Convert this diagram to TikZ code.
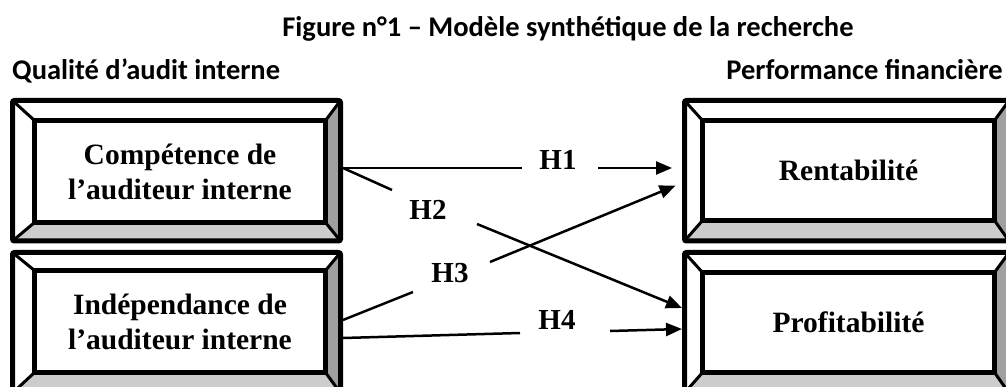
\documentclass[tikz,border=0pt]{standalone}
\usepackage{fontspec}
\setmainfont{Liberation Serif}
\newfontfamily\calfont{Carlito}
\usetikzlibrary{arrows.meta}
\definecolor{bevdark}{HTML}{A0A0A0}
\definecolor{bevlight}{HTML}{CCCCCC}
\tikzset{
  diag/.style={line width=3pt, line cap=round},
  outerbox/.style={draw, line width=5pt, rounded corners=2pt, inner sep=0pt},
  innerbox/.style={draw, line width=5pt, inner sep=0pt, align=center,
    font=\fontsize{29.5}{35}\selectfont\bfseries},
  heading/.style={font=\calfont\fontsize{28.5}{32}\selectfont\bfseries, inner sep=0pt},
  hyp/.style={font=\fontsize{29}{32}\selectfont\bfseries, inner sep=0pt},
  conn/.style={line width=2.5pt},
  arr/.style={conn, -{Triangle[length=16pt,width=13pt]}},
}
% #1 ol, #2 ot, #3 or, #4 ob, #5 il, #6 it, #7 ir, #8 ib
\newcommand\bevelframe[8]{%
  \fill[white] (#1,#2) -- (#3,#2) -- (#7,#6) -- (#5,#6) -- cycle;
  \fill[white] (#1,#2) -- (#5,#6) -- (#5,#8) -- (#1,#4) -- cycle;
  \fill[bevdark] (#3,#2) -- (#3,#4) -- (#7,#8) -- (#7,#6) -- cycle;
  \fill[bevlight] (#1,#4) -- (#5,#8) -- (#7,#8) -- (#3,#4) -- cycle;
  \draw[diag] (#1,#2) -- (#5,#6) (#3,#2) -- (#7,#6) (#1,#4) -- (#5,#8) (#3,#4) -- (#7,#8);
}
\begin{document}
\begin{tikzpicture}[x=1pt,y=-1pt]
\useasboundingbox (0,0) rectangle (1006,387);
\begin{scope}
\clip (0,0) rectangle (1006,387);
% left top
\bevelframe{12.5}{100.5}{340.5}{241}{34.5}{120.5}{325.5}{222.5}
\node[outerbox, minimum width=328pt, minimum height=140.5pt] (c1o) at (176.5,170.75) {};
\node[innerbox, minimum width=291pt, minimum height=102pt] (c1) at (180,171.5) {Compétence de\\l’auditeur interne};
% left bottom
\bevelframe{12.5}{252.5}{340.5}{393}{34.5}{270.5}{325.5}{372.5}
\node[outerbox, minimum width=328pt, minimum height=140.5pt] (c2o) at (176.5,322.75) {};
\node[innerbox, minimum width=291pt, minimum height=102pt] (c2) at (180,321.5) {Indépendance de\\l’auditeur interne};
% right top
\bevelframe{684.5}{100.5}{1009}{241}{702.5}{120.5}{994.5}{220.5}
\node[outerbox, minimum width=324.5pt, minimum height=140.5pt] (r1o) at (846.75,170.75) {};
\node[innerbox, minimum width=292pt, minimum height=100pt] (r1) at (848.5,170.5) {Rentabilité};
% right bottom
\bevelframe{684.5}{252.5}{1009}{393}{702.5}{272.5}{994.5}{372.5}
\node[outerbox, minimum width=324.5pt, minimum height=140.5pt] (r2o) at (846.75,322.75) {};
\node[innerbox, minimum width=292pt, minimum height=100pt] (r2) at (848.5,322.5) {Profitabilité};
\end{scope}
% headings
\node[heading, anchor=base] (title) at (568,37) {Figure n°1 – Modèle synthétique de la recherche};
\node[heading, anchor=base west] (qual) at (12,80) {Qualité d’audit interne};
\node[heading, anchor=base east] (perf) at (1003,80) {Performance financière};
% gap coordinates
\coordinate (h1a) at (522,168);
\coordinate (h1b) at (598,168);
\coordinate (h2a) at (392,190);
\coordinate (h2b) at (477,224);
\coordinate (h3a) at (413,292);
\coordinate (h3b) at (490,262);
\coordinate (h4a) at (520,333);
\coordinate (h4b) at (610,331);
% connectors
\draw[conn] (c1o.east |- 0,168) -- (h1a);
\draw[arr, shorten >=10pt] (h1b) -- (r1o.west |- 0,168);
\draw[conn] (c1o.east |- 0,168) -- (h2a);
\draw[arr] (h2b) -- (r2o.west |- 0,308);
\draw[conn] (c2o.east |- 0,320) -- (h3a);
\draw[arr, shorten >=7pt] (h3b) -- (r1o.west |- 0,183);
\draw[conn] (c2o.east |- 0,338) -- (h4a);
\draw[arr] (h4b) -- (r2o.west |- 0,329);
% labels
\node[hyp] (l1) at (558,160) {H1};
\node[hyp] (l2) at (428,210) {H2};
\node[hyp] (l3) at (450,273) {H3};
\node[hyp] (l4) at (557,320) {H4};
\end{tikzpicture}
\end{document}
